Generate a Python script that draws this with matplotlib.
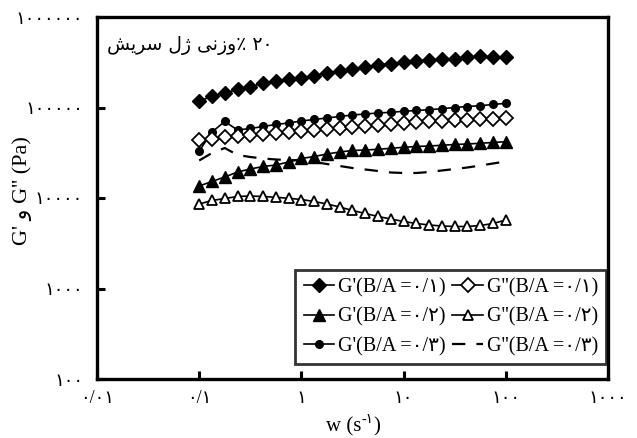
import matplotlib
matplotlib.use('Agg')
import matplotlib.pyplot as plt
from matplotlib.ticker import NullLocator, FixedLocator, FixedFormatter

plt.rcParams['font.family'] = ['Liberation Serif', 'DejaVu Sans']

# angular frequency (s^-1)
freq = [0.1, 0.1334, 0.1778, 0.2371, 0.3162, 0.4217, 0.5623, 0.7499,
        1.0, 1.334, 1.778, 2.371, 3.162, 4.217, 5.623, 7.499,
        10.0, 13.34, 17.78, 23.71, 31.62, 42.17, 56.23, 74.99, 100.0]

# B/A = 0.1
g1_storage = [118000, 132300, 144600, 158100, 170600, 184200, 196300, 206500,
              214500, 225700, 240500, 253100, 263000, 276700, 294800, 306300,
              318300, 326500, 334900, 339200, 343600, 356900, 370700, 358700, 364200]
g1_loss = [43740, 45440, 47210, 48430, 49680, 50960, 52270, 53620,
           55000, 56420, 57880, 59370, 60900, 62470, 64090, 65740,
           67430, 69170, 70050, 70940, 71850, 72770, 73700, 74640, 75600]
# B/A = 0.2
g2_storage = [13570, 15220, 17060, 19380, 20920, 22290, 23150, 24990,
              27320, 28740, 30640, 32240, 33490, 33920, 34530, 35420,
              36330, 37080, 37550, 38230, 39020, 39520, 40230, 41060, 41910]
g2_loss = [8585, 9385, 9874, 10390, 10520, 10390, 10180, 9925,
           9625, 9149, 8585, 7954, 7277, 6742, 6246, 5861,
           5500, 5227, 5030, 4906, 4844, 4844, 4968, 5227, 5714]
# B/A = 0.3
g3_storage = [33060, 53620, 70050, 56420, 58620, 61680, 64910, 67430,
              70940, 73700, 76560, 79540, 82630, 84760, 86960, 88510,
              90780, 92660, 94560, 96990, 100000, 102570, 104690, 107940, 111290]
g3_loss = [25970, 31430, 35690, 29870, 28380, 27320, 26640, 26300,
           25970, 24990, 23750, 22570, 21450, 20650, 19880, 19130,
           18890, 18890, 19380, 20140, 20920, 21730, 22860, 24060, 25320]

x_tick_vals = [0.01, 0.1, 1, 10, 100, 1000]
x_tick_labels = ['\u06f0/\u06f0\u06f1', '\u06f0/\u06f1', '\u06f1', '\u06f1\u06f0',
                 '\u06f1\u06f0\u06f0', '\u06f1\u06f0\u06f0\u06f0']
y_tick_vals = [1e2, 1e3, 1e4, 1e5, 1e6]
y_tick_labels = ['\u06f1\u06f0\u06f0', '\u06f1\u06f0\u06f0\u06f0', '\u06f1\u06f0\u06f0\u06f0\u06f0',
                 '\u06f1\u06f0\u06f0\u06f0\u06f0\u06f0', '\u06f1\u06f0\u06f0\u06f0\u06f0\u06f0\u06f0']

labels = ["G'(B/A =\u06f0/\u06f1)", "G'(B/A =\u06f0/\u06f2)", "G'(B/A =\u06f0/\u06f3)",
          "G''(B/A =\u06f0/\u06f1)", "G''(B/A =\u06f0/\u06f2)", "G''(B/A =\u06f0/\u06f3)"]

# title (visual order, presentation forms): "۲۰٪ وزنی ژل سریش"
title_txt = ('\ufeb6\ufbfe\ufeae\ufeb3' + ' ' + '\u0644\u0698' + ' ' +
             '\ufbfd\ufee7\u0632\u0648' + '\u066a' + ' ' + '\u06f2\u06f0')
ylabel_txt = "G' \u0648 G'' (Pa)"

fig = plt.figure(figsize=(6.37, 4.38), dpi=100)
ax = fig.add_axes([97 / 637, 1 - 379 / 438, 511 / 637, 362 / 438])
ax.set_xscale('log')
ax.set_yscale('log')

lw = 1.2
h1, = ax.plot(freq, g1_storage, color='black', lw=lw, marker='D', ms=7.5,
              mfc='black', mec='black')
h2, = ax.plot(freq, g2_storage, color='black', lw=lw, marker='^', ms=8,
              mfc='black', mec='black')
h3, = ax.plot(freq, g3_storage, color='black', lw=lw, marker='o', ms=5.5,
              mfc='black', mec='black')
h4, = ax.plot(freq, g1_loss, color='black', lw=lw, marker='D', ms=7.5,
              mfc='white', mec='black', mew=1.3)
h5, = ax.plot(freq, g2_loss, color='black', lw=lw, marker='^', ms=7.5,
              mfc='white', mec='black', mew=1.3)
h6, = ax.plot(freq, g3_loss, color='black', lw=1.6, linestyle=(0, (6, 5)))

ax.set_xlim(0.01, 1000)
ax.set_ylim(100, 1e6)
ax.xaxis.set_major_locator(FixedLocator(x_tick_vals))
ax.xaxis.set_major_formatter(FixedFormatter(x_tick_labels))
ax.yaxis.set_major_locator(FixedLocator(y_tick_vals))
ax.yaxis.set_major_formatter(FixedFormatter(y_tick_labels))
ax.xaxis.set_minor_locator(NullLocator())
ax.yaxis.set_minor_locator(NullLocator())
ax.tick_params(axis='both', direction='in', length=6, width=2.2, labelsize=13)
ax.tick_params(axis='x', pad=8)
ax.tick_params(axis='y', pad=10)
for s in ax.spines.values():
    s.set_linewidth(2.4)

leg = ax.legend([h1, h2, h3, h4, h5, h6], labels, ncol=2, loc='lower right',
                bbox_to_anchor=(0.996, 0.041), borderaxespad=0, frameon=True,
                fancybox=False, edgecolor='black', fontsize=14.5, handlelength=1.5,
                handletextpad=0.2, columnspacing=0.35, labelspacing=0.5,
                borderpad=0.4, numpoints=1)
leg.get_frame().set_linewidth(2)

ax.text(0.02, 0.92, title_txt, transform=ax.transAxes, ha='left', va='center',
        fontsize=13.5, family=['DejaVu Sans'])

fig.text(22 / 637, 1 - 191 / 438, ylabel_txt, rotation=90, ha='center',
         va='center', fontsize=16)

t1 = fig.text(326 / 637, 1 - 431 / 438, 'w (s', ha='left', va='baseline', fontsize=15)
t2 = ax.annotate('-\u06f1', xy=(1, 0.5), xycoords=t1, ha='left', va='bottom',
                 fontsize=10, annotation_clip=False)
t3 = ax.annotate(')', xy=(1, 0), xycoords=(t2, t1), ha='left', va='bottom',
                 fontsize=15, annotation_clip=False)

fig.savefig('out.png', dpi=100)
